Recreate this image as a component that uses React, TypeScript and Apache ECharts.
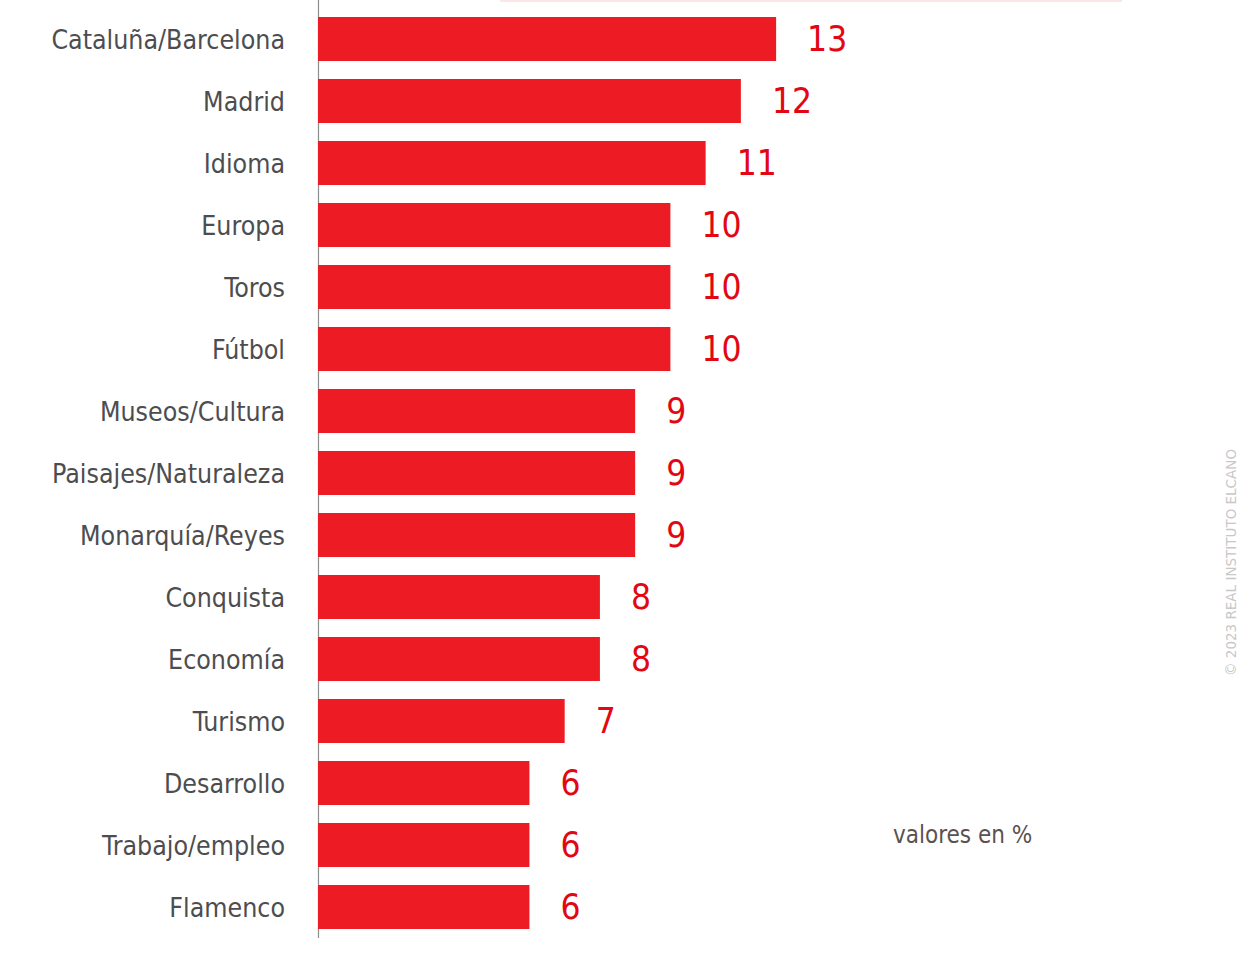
import React, { useEffect, useRef } from "react";
import * as echarts from "echarts";

const categories = [
  "Cataluña/Barcelona",
  "Madrid",
  "Idioma",
  "Europa",
  "Toros",
  "Fútbol",
  "Museos/Cultura",
  "Paisajes/Naturaleza",
  "Monarquía/Reyes",
  "Conquista",
  "Economía",
  "Turismo",
  "Desarrollo",
  "Trabajo/empleo",
  "Flamenco",
];
const values = [13, 12, 11, 10, 10, 10, 9, 9, 9, 8, 8, 7, 6, 6, 6];

const FONT = "'DejaVu Sans Condensed', 'Liberation Sans Narrow', sans-serif";

export default function App() {
  const ref = useRef<HTMLDivElement>(null);
  useEffect(() => {
    if (!ref.current) return;
    const chart = echarts.init(ref.current, null, { renderer: "svg" });
    chart.setOption({
      animation: false,
      backgroundColor: "#ffffff",
      grid: { left: 318, right: 39, top: 8, bottom: 19, containLabel: false },
      xAxis: {
        type: "value",
        min: 0,
        max: 25,
        show: false,
      },
      yAxis: {
        type: "category",
        data: categories,
        inverse: true,
        axisLine: { show: false },
        axisTick: { show: false },
        axisLabel: {
          margin: 33,
          fontFamily: FONT,
          fontSize: 26.5,
          color: "#4d4d4f",
          padding: [8, 0, 0, 0],
        },
      },
      series: [
        {
          type: "bar",
          data: values,
          barWidth: 44,
          itemStyle: { color: "#ed1c24" },
          label: {
            show: true,
            position: "right",
            distance: 31,
            fontFamily: FONT,
            fontSize: 35,
            color: "#e30613",
          },
        },
      ],
      graphic: [
        {
          type: "rect",
          shape: { x: 500, y: 0, width: 622, height: 2 },
          style: { fill: "#fbe6e8" },
          silent: true,
        },
        {
          type: "line",
          shape: { x1: 318.5, y1: 0, x2: 318.5, y2: 938 },
          style: { stroke: "#8c8c8c", lineWidth: 1.2 },
          silent: true,
        },
        {
          type: "text",
          x: 893,
          y: 835,
          style: {
            text: "valores en %",
            fontFamily: FONT,
            fontSize: 24,
            fill: "#5b5250",
            textVerticalAlign: "middle",
          },
        },
        {
          type: "text",
          x: 1224,
          y: 676,
          rotation: Math.PI / 2,
          style: {
            text: "© 2023 REAL INSTITUTO ELCANO",
            fontFamily: "'DejaVu Sans', sans-serif",
            fontSize: 13.5,
            fill: "#c8c8c8",
            textVerticalAlign: "top",
          },
        },
      ],
    });
    return () => chart.dispose();
  }, []);
  return (
    <div
      ref={ref}
      style={{ position: "absolute", left: 0, top: 0, width: 1238, height: 957 }}
    />
  );
}
